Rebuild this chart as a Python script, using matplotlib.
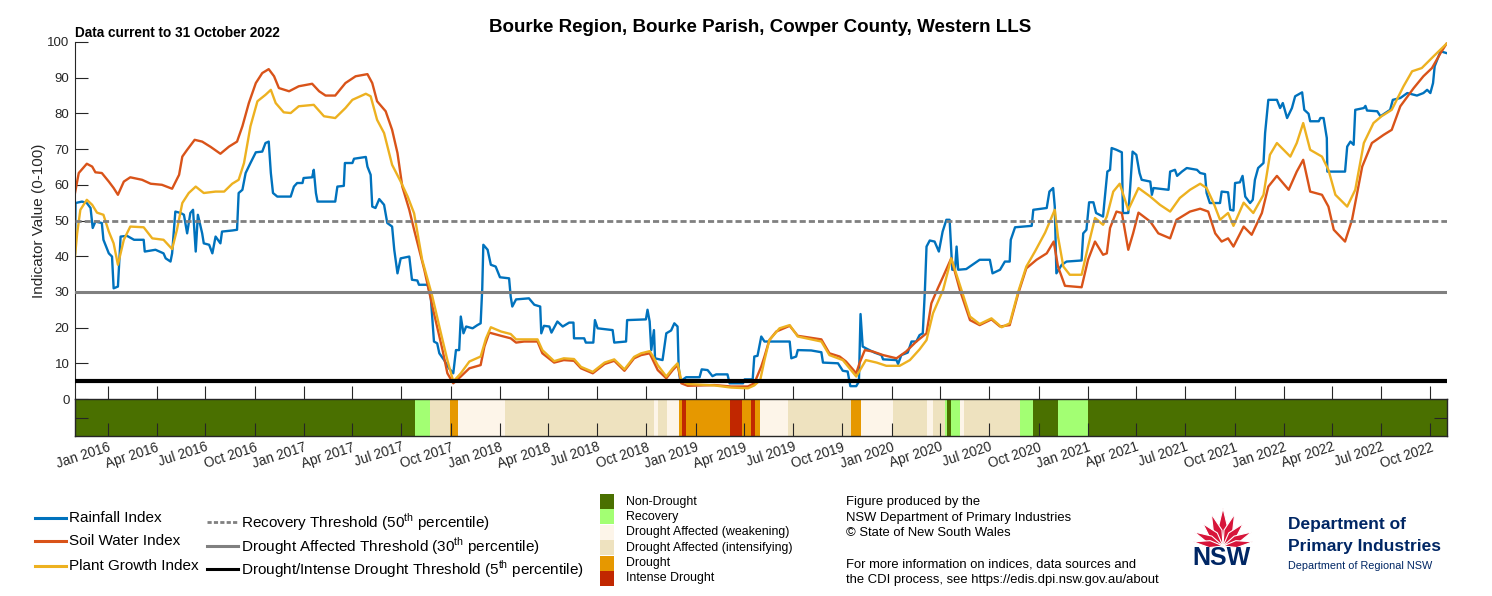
import matplotlib
matplotlib.use("Agg")
import matplotlib.pyplot as plt
import matplotlib.dates as mdates
import numpy as np
import pandas as pd
from matplotlib.patches import Rectangle, Polygon
from matplotlib.lines import Line2D

plt.rcParams['font.family'] = ['Liberation Sans', 'DejaVu Sans']
plt.rcParams['mathtext.fontset'] = 'custom'
plt.rcParams['mathtext.rm'] = 'Liberation Sans'

# --- Daten ---
rain_dates = [
    "2015-11-01", "2015-11-02", "2015-11-14", "2015-11-23", "2015-11-30", "2015-12-04", "2015-12-09",
    "2015-12-21", "2015-12-24", "2016-01-03", "2016-01-09", "2016-01-12", "2016-01-20", "2016-01-25",
    "2016-02-06", "2016-02-19", "2016-03-08", "2016-03-10", "2016-03-30", "2016-04-14", "2016-04-18",
    "2016-04-27", "2016-04-30", "2016-05-06", "2016-05-16", "2016-05-22", "2016-05-28", "2016-06-03",
    "2016-06-08", "2016-06-13", "2016-06-17", "2016-06-25", "2016-06-28", "2016-07-08", "2016-07-14",
    "2016-07-20", "2016-07-29", "2016-08-01", "2016-08-20", "2016-08-29", "2016-09-01", "2016-09-08",
    "2016-09-14", "2016-09-23", "2016-10-03", "2016-10-15", "2016-10-21", "2016-10-27", "2016-10-31",
    "2016-11-04", "2016-11-12", "2016-12-07", "2016-12-13", "2016-12-19", "2016-12-29", "2016-12-31",
    "2017-01-16", "2017-01-19", "2017-01-23", "2017-01-26", "2017-02-28", "2017-03-04", "2017-03-16",
    "2017-03-18", "2017-04-01", "2017-04-04", "2017-04-26", "2017-04-29", "2017-05-05", "2017-05-08",
    "2017-05-14", "2017-05-21", "2017-05-30", "2017-06-05", "2017-06-14", "2017-06-18", "2017-06-24",
    "2017-06-30", "2017-07-16", "2017-07-21", "2017-07-31", "2017-08-03", "2017-08-19", "2017-08-25",
    "2017-08-31", "2017-09-06", "2017-09-10", "2017-09-19", "2017-09-28", "2017-10-06", "2017-10-11",
    "2017-10-17", "2017-10-20", "2017-10-25", "2017-10-30", "2017-11-11", "2017-11-20", "2017-11-26",
    "2017-11-29", "2017-12-01", "2017-12-09", "2017-12-15", "2017-12-24", "2018-01-01", "2018-01-18",
    "2018-01-21", "2018-01-24", "2018-01-31", "2018-02-24", "2018-03-06", "2018-03-17", "2018-03-19",
    "2018-03-24", "2018-04-03", "2018-04-07", "2018-04-18", "2018-04-28", "2018-05-10", "2018-05-18",
    "2018-05-19", "2018-06-07", "2018-06-10", "2018-06-24", "2018-06-27", "2018-07-02", "2018-07-30",
    "2018-08-02", "2018-08-24", "2018-08-26", "2018-09-30", "2018-10-03", "2018-10-07", "2018-10-10",
    "2018-10-15", "2018-10-17", "2018-10-31", "2018-11-07", "2018-11-16", "2018-11-22", "2018-11-28",
    "2018-11-30", "2018-12-03", "2018-12-14", "2019-01-08", "2019-01-12", "2019-01-23", "2019-02-01",
    "2019-02-08", "2019-03-01", "2019-03-05", "2019-03-30", "2019-04-02", "2019-04-17", "2019-04-20",
    "2019-04-26", "2019-05-03", "2019-05-09", "2019-06-25", "2019-06-28", "2019-07-07", "2019-07-10",
    "2019-08-04", "2019-08-23", "2019-08-26", "2019-09-23", "2019-10-02", "2019-10-11", "2019-10-16",
    "2019-10-27", "2019-11-01", "2019-11-04", "2019-11-08", "2019-11-14", "2019-11-30", "2019-12-13",
    "2019-12-16", "2020-01-10", "2020-01-13", "2020-01-19", "2020-01-31", "2020-02-07", "2020-02-16",
    "2020-02-22", "2020-02-28", "2020-03-03", "2020-03-06", "2020-03-12", "2020-03-21", "2020-03-29",
    "2020-04-05", "2020-04-12", "2020-04-18", "2020-04-23", "2020-04-28", "2020-05-01", "2020-05-04",
    "2020-05-19", "2020-06-13", "2020-07-02", "2020-07-07", "2020-07-21", "2020-07-30", "2020-08-08",
    "2020-08-10", "2020-08-18", "2020-09-18", "2020-09-21", "2020-10-16", "2020-10-21", "2020-10-28",
    "2020-10-31", "2020-11-03", "2020-11-13", "2020-11-22", "2020-12-20", "2020-12-23", "2020-12-29",
    "2021-01-03", "2021-01-11", "2021-01-16", "2021-01-29", "2021-01-31", "2021-02-06", "2021-02-11",
    "2021-02-14", "2021-02-23", "2021-03-05", "2021-03-07", "2021-03-17", "2021-03-20", "2021-03-25",
    "2021-04-01", "2021-04-07", "2021-04-11", "2021-04-27", "2021-04-30", "2021-05-03", "2021-05-31",
    "2021-06-03", "2021-06-12", "2021-06-16", "2021-06-25", "2021-07-04", "2021-07-23", "2021-07-29",
    "2021-08-07", "2021-08-10", "2021-08-16", "2021-09-04", "2021-09-07", "2021-09-19", "2021-09-23",
    "2021-09-29", "2021-10-02", "2021-10-11", "2021-10-16", "2021-10-21", "2021-10-30", "2021-11-04",
    "2021-11-08", "2021-11-14", "2021-11-24", "2021-11-27", "2021-12-03", "2021-12-19", "2021-12-25",
    "2021-12-30", "2022-01-07", "2022-01-16", "2022-01-22", "2022-02-04", "2022-02-08", "2022-02-16",
    "2022-02-19", "2022-03-07", "2022-03-10", "2022-03-16", "2022-03-22", "2022-03-23", "2022-04-25",
    "2022-04-29", "2022-05-05", "2022-05-11", "2022-05-14", "2022-05-30", "2022-06-02", "2022-06-05",
    "2022-06-24", "2022-06-30", "2022-07-09", "2022-07-18", "2022-07-23", "2022-08-06", "2022-08-19",
    "2022-09-06", "2022-09-18", "2022-09-25", "2022-10-01", "2022-10-06", "2022-10-09", "2022-10-20",
    "2022-10-31",
]
rain_vals = [
    40.8, 54.9, 55.3, 54.9, 53.5, 47.9, 49.7,
    49.3, 44.6, 40.8, 39.9, 31.0, 31.5, 45.5,
    45.7, 44.6, 44.6, 41.3, 41.8, 40.8, 39.4,
    38.5, 40.8, 52.5, 52.1, 51.6, 46.4, 52.1,
    53.0, 41.3, 51.6, 46.4, 43.6, 43.2, 40.8,
    45.5, 43.6, 46.9, 47.2, 47.4, 57.7, 58.6,
    63.3, 66.1, 69.1, 69.3, 71.7, 72.1, 63.3,
    57.7, 56.7, 56.7, 59.5, 60.5, 60.5, 61.9,
    62.1, 64.2, 57.7, 55.3, 55.3, 59.5, 59.7,
    66.1, 66.1, 67.3, 67.8, 65.1, 62.8, 53.9,
    53.5, 56.0, 54.4, 49.3, 48.3, 41.8, 35.2,
    39.4, 39.9, 33.4, 33.2, 32.0, 32.0, 28.7,
    16.1, 15.6, 12.8, 10.9, 8.6, 7.2, 13.7,
    13.7, 23.1, 18.4, 20.3, 19.8, 20.7, 21.2,
    31.0, 43.2, 41.8, 37.6, 37.1, 34.1, 33.8,
    28.7, 25.9, 27.9, 28.2, 26.4, 25.9, 18.4,
    20.5, 20.3, 18.6, 21.7, 20.3, 21.4, 21.4,
    17.0, 17.0, 15.8, 15.8, 22.1, 19.8, 19.3,
    15.8, 16.1, 22.1, 22.3, 25.0, 21.7, 13.7,
    19.3, 11.4, 10.9, 18.4, 19.2, 21.2, 20.3,
    9.1, 4.9, 6.1, 6.1, 8.3, 8.1, 6.4,
    6.9, 6.9, 4.4, 4.4, 5.5, 5.5, 11.9,
    12.1, 17.5, 16.1, 16.1, 11.4, 11.9, 13.7,
    13.6, 13.1, 10.2, 10.0, 7.9, 7.7, 3.6,
    3.6, 4.9, 23.8, 14.7, 14.2, 13.0, 12.3,
    11.1, 10.9, 9.8, 12.3, 13.0, 16.1, 16.1,
    17.9, 18.4, 30.6, 42.7, 44.4, 44.1, 41.3,
    46.9, 50.2, 50.2, 36.2, 36.2, 42.7, 36.2,
    36.4, 39.0, 39.0, 35.2, 36.2, 38.5, 38.5,
    44.6, 48.1, 48.5, 53.0, 53.5, 58.1, 59.1,
    53.9, 35.2, 37.6, 38.5, 38.8, 46.4, 47.4,
    55.1, 55.1, 52.1, 51.1, 54.4, 63.7, 64.2,
    70.3, 69.8, 69.1, 52.1, 52.1, 58.1, 69.3,
    68.4, 63.3, 61.4, 60.9, 57.2, 59.1, 58.6,
    63.7, 64.2, 62.5, 63.7, 64.7, 64.2, 63.3,
    63.0, 57.7, 54.9, 54.9, 58.1, 57.9, 53.0,
    52.8, 60.5, 60.7, 62.5, 56.7, 54.9, 55.8,
    61.4, 64.7, 66.1, 74.5, 83.8, 83.8, 81.5,
    82.9, 78.7, 81.5, 84.8, 85.9, 81.0, 79.9,
    77.8, 77.8, 78.7, 78.7, 73.1, 63.7, 63.7,
    70.7, 72.1, 71.2, 81.0, 81.5, 82.1, 80.8,
    80.6, 79.2, 80.1, 81.0, 83.8, 84.3, 85.7,
    85.0, 85.7, 86.6, 85.7, 88.5, 93.2, 97.4,
    96.9,
]

soil_dates = [
    "2015-11-01", "2015-11-08", "2015-11-23", "2015-12-03", "2015-12-09", "2015-12-21", "2016-01-03",
    "2016-01-12", "2016-01-20", "2016-01-31", "2016-02-12", "2016-03-05", "2016-03-21", "2016-04-11",
    "2016-04-30", "2016-05-13", "2016-05-19", "2016-05-28", "2016-06-11", "2016-06-25", "2016-07-11",
    "2016-07-29", "2016-08-14", "2016-08-29", "2016-09-08", "2016-09-20", "2016-10-03", "2016-10-15",
    "2016-10-27", "2016-11-06", "2016-11-15", "2016-12-04", "2016-12-22", "2017-01-16", "2017-01-29",
    "2017-02-10", "2017-02-28", "2017-03-19", "2017-04-07", "2017-04-29", "2017-05-08", "2017-05-17",
    "2017-06-02", "2017-06-14", "2017-06-24", "2017-07-03", "2017-07-16", "2017-07-25", "2017-08-13",
    "2017-08-31", "2017-09-16", "2017-09-25", "2017-10-06", "2017-10-20", "2017-11-05", "2017-11-26",
    "2017-12-03", "2017-12-12", "2018-01-03", "2018-01-21", "2018-01-31", "2018-02-15", "2018-03-12",
    "2018-03-21", "2018-04-12", "2018-04-30", "2018-05-19", "2018-06-01", "2018-06-23", "2018-07-15",
    "2018-08-02", "2018-08-21", "2018-09-08", "2018-09-21", "2018-10-07", "2018-10-13", "2018-10-22",
    "2018-11-07", "2018-11-19", "2018-11-28", "2018-12-05", "2018-12-17", "2019-02-05", "2019-03-08",
    "2019-04-08", "2019-04-20", "2019-05-03", "2019-05-09", "2019-05-18", "2019-05-31", "2019-06-25",
    "2019-07-10", "2019-08-01", "2019-08-23", "2019-09-07", "2019-09-26", "2019-10-08", "2019-10-27",
    "2019-11-02", "2019-11-12", "2019-11-27", "2019-12-16", "2020-01-10", "2020-01-28", "2020-02-16",
    "2020-03-06", "2020-03-15", "2020-03-27", "2020-04-06", "2020-04-21", "2020-05-07", "2020-05-26",
    "2020-06-13", "2020-07-05", "2020-07-21", "2020-08-08", "2020-08-24", "2020-09-08", "2020-09-27",
    "2020-10-16", "2020-10-29", "2020-11-06", "2020-11-19", "2020-12-20", "2021-01-01", "2021-01-14",
    "2021-01-29", "2021-02-05", "2021-02-11", "2021-02-23", "2021-03-05", "2021-03-17", "2021-03-26",
    "2021-04-05", "2021-04-27", "2021-05-12", "2021-06-03", "2021-06-15", "2021-07-10", "2021-07-29",
    "2021-08-13", "2021-08-26", "2021-09-07", "2021-09-19", "2021-09-29", "2021-10-18", "2021-11-02",
    "2021-11-21", "2021-12-03", "2021-12-19", "2022-01-10", "2022-01-25", "2022-02-06", "2022-02-19",
    "2022-03-13", "2022-03-25", "2022-04-04", "2022-04-25", "2022-05-08", "2022-05-27", "2022-06-14",
    "2022-07-06", "2022-07-21", "2022-08-06", "2022-08-31", "2022-09-18", "2022-10-04", "2022-10-20",
    "2022-10-31",
]
soil_vals = [
    57.7, 63.3, 65.9, 65.1, 63.5, 63.3, 60.9,
    59.1, 57.2, 60.9, 62.1, 61.4, 60.3, 60.0,
    58.9, 62.8, 67.9, 69.8, 72.6, 72.1, 70.6,
    68.7, 70.7, 72.1, 76.4, 82.9, 88.5, 91.3,
    92.4, 90.4, 87.1, 86.2, 87.6, 88.3, 86.2,
    85.0, 85.0, 88.5, 90.4, 91.0, 88.5, 83.4,
    80.6, 75.4, 68.9, 59.5, 53.0, 47.4, 36.2,
    24.0, 13.7, 7.2, 4.4, 6.3, 8.6, 9.5,
    14.7, 18.6, 17.7, 17.0, 15.8, 16.1, 16.1,
    12.8, 10.2, 10.9, 10.7, 8.6, 7.2, 9.8,
    10.7, 7.9, 11.4, 12.3, 12.8, 10.9, 8.1,
    5.8, 8.1, 9.5, 4.4, 3.7, 3.9, 3.5,
    3.5, 4.4, 9.1, 11.9, 16.5, 18.9, 20.5,
    17.7, 17.2, 16.7, 12.8, 11.9, 10.5, 7.2,
    10.0, 13.7, 13.3, 12.3, 11.4, 13.3, 16.1,
    18.4, 26.8, 31.0, 34.3, 39.4, 30.6, 22.1,
    20.7, 22.3, 20.3, 20.7, 29.6, 36.6, 39.0,
    40.8, 44.1, 37.1, 31.7, 31.3, 39.0, 44.1,
    40.4, 40.8, 47.9, 52.5, 52.1, 41.8, 46.4,
    52.2, 49.7, 46.4, 45.0, 50.2, 52.5, 53.3,
    52.5, 46.4, 44.1, 45.0, 42.7, 48.3, 46.0,
    52.1, 59.5, 62.5, 58.6, 63.7, 67.0, 58.1,
    57.2, 53.9, 47.4, 44.1, 50.2, 65.1, 71.7,
    74.0, 75.4, 82.0, 87.1, 90.4, 92.7, 96.9,
    99.5,
]

plant_dates = [
    "2015-11-01", "2015-11-05", "2015-11-11", "2015-11-23", "2015-12-03", "2015-12-12", "2015-12-24",
    "2016-01-03", "2016-01-12", "2016-01-20", "2016-01-31", "2016-02-12", "2016-03-08", "2016-03-24",
    "2016-04-14", "2016-04-30", "2016-05-09", "2016-05-19", "2016-05-31", "2016-06-13", "2016-06-28",
    "2016-07-20", "2016-08-05", "2016-08-20", "2016-09-01", "2016-09-11", "2016-09-23", "2016-10-06",
    "2016-10-21", "2016-10-31", "2016-11-09", "2016-11-24", "2016-12-07", "2016-12-22", "2017-01-19",
    "2017-02-07", "2017-02-28", "2017-03-19", "2017-04-01", "2017-04-26", "2017-05-05", "2017-05-17",
    "2017-05-30", "2017-06-14", "2017-06-30", "2017-07-13", "2017-07-25", "2017-08-09", "2017-08-28",
    "2017-09-13", "2017-09-25", "2017-10-06", "2017-10-20", "2017-11-05", "2017-11-26", "2017-12-06",
    "2017-12-15", "2018-01-03", "2018-01-21", "2018-01-31", "2018-03-12", "2018-03-21", "2018-04-12",
    "2018-04-30", "2018-05-19", "2018-06-01", "2018-06-23", "2018-07-15", "2018-08-02", "2018-08-21",
    "2018-09-08", "2018-09-21", "2018-10-07", "2018-10-13", "2018-10-22", "2018-11-07", "2018-11-19",
    "2018-11-28", "2018-12-05", "2018-12-17", "2019-02-05", "2019-03-08", "2019-04-08", "2019-04-20",
    "2019-05-01", "2019-05-09", "2019-05-18", "2019-06-06", "2019-06-25", "2019-07-10", "2019-08-23",
    "2019-09-07", "2019-10-02", "2019-10-27", "2019-11-05", "2019-11-14", "2019-12-04", "2019-12-22",
    "2020-01-16", "2020-02-04", "2020-02-22", "2020-03-06", "2020-03-18", "2020-04-06", "2020-04-21",
    "2020-05-07", "2020-05-26", "2020-06-13", "2020-07-05", "2020-07-24", "2020-08-08", "2020-08-24",
    "2020-09-08", "2020-09-24", "2020-10-13", "2020-10-31", "2020-11-06", "2020-11-16", "2020-11-28",
    "2020-12-20", "2021-01-01", "2021-01-14", "2021-01-29", "2021-02-05", "2021-02-17", "2021-03-01",
    "2021-03-17", "2021-04-05", "2021-04-27", "2021-05-15", "2021-06-03", "2021-06-21", "2021-07-10",
    "2021-07-29", "2021-08-10", "2021-08-23", "2021-09-04", "2021-09-19", "2021-09-29", "2021-10-18",
    "2021-11-05", "2021-11-24", "2021-12-06", "2021-12-19", "2022-01-13", "2022-01-25", "2022-02-06",
    "2022-02-19", "2022-03-13", "2022-03-25", "2022-04-07", "2022-04-29", "2022-05-14", "2022-05-30",
    "2022-06-17", "2022-07-02", "2022-07-21", "2022-08-12", "2022-08-28", "2022-09-15", "2022-10-07",
    "2022-10-31",
]
plant_vals = [
    39.9, 46.4, 53.0, 55.8, 54.4, 52.2, 51.6,
    46.9, 43.6, 37.6, 44.6, 48.3, 48.1, 45.0,
    44.6, 42.0, 47.4, 54.9, 57.7, 59.5, 57.7,
    58.1, 58.1, 60.3, 61.4, 66.1, 76.4, 83.4,
    85.2, 86.6, 82.9, 80.3, 80.1, 82.0, 82.4,
    79.2, 78.7, 81.5, 83.8, 85.5, 84.8, 78.2,
    74.5, 65.6, 60.9, 56.7, 52.0, 39.0, 28.7,
    18.4, 10.9, 4.9, 7.2, 10.5, 11.9, 17.0,
    20.1, 18.9, 18.2, 16.7, 16.7, 13.7, 10.6,
    11.4, 11.2, 9.0, 7.6, 10.2, 11.1, 8.3,
    11.8, 12.8, 13.4, 12.0, 9.5, 6.3, 8.6,
    10.0, 5.2, 4.2, 3.8, 3.2, 3.0, 3.8,
    5.3, 10.9, 16.5, 19.8, 20.7, 17.5, 16.1,
    12.3, 10.9, 6.3, 8.6, 10.9, 10.2, 9.3,
    9.3, 10.9, 13.9, 16.5, 24.0, 30.6, 39.4,
    32.0, 23.1, 21.0, 22.6, 20.1, 21.2, 30.1,
    37.1, 41.3, 46.6, 53.0, 45.5, 37.1, 34.8,
    34.8, 42.7, 50.7, 48.8, 51.1, 58.1, 60.3,
    53.0, 59.1, 56.7, 54.4, 52.5, 56.3, 58.6,
    60.3, 59.1, 54.9, 50.2, 52.1, 48.5, 55.0,
    52.1, 57.2, 68.4, 71.7, 67.9, 71.7, 77.3,
    69.8, 67.9, 64.2, 57.2, 53.9, 58.6, 71.7,
    77.3, 79.2, 81.0, 87.6, 91.8, 92.7, 96.0,
    99.5,
]

thresholds = [50, 30, 5]

# CDI-Kategorien: Startdatum + Klasse (Ende = naechster Start)
cdi_names = ["Non-Drought", "Recovery", "Drought Affected (weakening)",
             "Drought Affected (intensifying)", "Drought", "Intense Drought"]
cdi_colors = ["#4A7000", "#A3FF73", "#FDF5E9", "#EEE2BF", "#E69800", "#C12700"]
cdi_start = [
    "2015-11-01", "2017-07-27", "2017-08-24", "2017-09-30", "2017-10-15", "2018-01-11",
    "2018-10-16", "2018-10-23", "2018-11-09", "2018-12-01", "2018-12-07", "2018-12-14",
    "2019-03-05", "2019-03-29", "2019-04-13", "2019-04-22", "2019-04-30", "2019-06-21",
    "2019-10-18", "2019-11-04", "2020-01-03", "2020-03-06", "2020-03-18", "2020-04-09",
    "2020-04-13", "2020-04-20", "2020-05-07", "2020-05-14", "2020-08-27", "2020-09-20",
    "2020-11-06", "2021-01-01",
]
cdi_class = [
    0, 1, 3, 4, 2, 3,
    2, 3, 2, 4, 5, 4,
    5, 4, 5, 4, 2, 3,
    4, 2, 3, 2, 3, 1,
    0, 1, 2, 3, 1, 0,
    1, 0,
]
period_start = "2015-11-01"
period_end = "2022-11-01"

# Farben
c_rain, c_soil, c_plant = "#0072BD", "#D95319", "#EDB120"
c_grey = "#808080"
c_axis = "#262626"

W, H = 1492, 596
fig = plt.figure(figsize=(W / 100, H / 100), dpi=100)
ax = fig.add_axes([75 / W, 1 - 399 / H, 1372 / W, 357 / H])
axb = fig.add_axes([75 / W, 1 - 436 / H, 1372 / W, 37 / H])

# Linien
ax.plot(pd.to_datetime(rain_dates), rain_vals, color=c_rain, lw=1.7, zorder=2)
ax.plot(pd.to_datetime(soil_dates), soil_vals, color=c_soil, lw=1.7, zorder=2)
ax.plot(pd.to_datetime(plant_dates), plant_vals, color=c_plant, lw=1.7, zorder=2)

ax.axhline(thresholds[0], color=c_grey, lw=2.0, ls=(0, (2.2, 1.1)), zorder=3)
ax.axhline(thresholds[1], color=c_grey, lw=2.2, zorder=3)
ax.axhline(thresholds[2], color="black", lw=3.0, zorder=3)

x0, x1 = pd.Timestamp(period_start), pd.Timestamp(period_end)
ax.set_xlim(x0, x1)
ax.set_ylim(0, 100)
ax.set_yticks(range(0, 101, 10))
for s in ["top", "right", "bottom"]:
    ax.spines[s].set_visible(False)
ax.spines["left"].set_color(c_axis)
ax.spines["left"].set_linewidth(0.8)

ticks = pd.date_range("2016-01-01", "2022-10-01", freq="QS")
ax.set_xticks(ticks)
ax.tick_params(axis="both", direction="in", length=9.5, width=0.8, colors=c_axis, labelsize=9.5)
ax.tick_params(axis="x", labelbottom=False)
ax.tick_params(axis="y", labelcolor=c_axis, pad=4)
ax.set_ylabel("Indicator Value (0-100)", fontsize=11, color=c_axis, labelpad=1)

# Kategorie-Balken
starts = pd.to_datetime(cdi_start)
ends = list(starts[1:]) + [x1]
for s, e, k in zip(starts, ends, cdi_class):
    axb.axvspan(s, e, color=cdi_colors[k], lw=0)
axb.set_xlim(x0, x1)
axb.set_ylim(0, 1)
axb.set_yticks([0.5])
axb.set_xticks(ticks)
axb.set_xticklabels([t.strftime("%b %Y") for t in ticks])
axb.tick_params(axis="x", direction="in", length=9.5, width=0.8, colors=c_axis, labelsize=9.8, pad=3)
axb.tick_params(axis="y", direction="in", length=9.5, width=0.8, colors=c_axis,
                left=True, right=True, labelleft=False)
for lab in axb.get_xticklabels():
    lab.set_rotation(18)
    lab.set_ha("right")
    lab.set_rotation_mode("anchor")
for s in axb.spines.values():
    s.set_color(c_axis)
    s.set_linewidth(1.0)

# Titel
fig.text(760 / W, 1 - 28 / H, "Bourke Region, Bourke Parish, Cowper County, Western LLS",
         ha="center", va="center", fontsize=13.5, fontweight="bold")
fig.text(75 / W, 1 - 33 / H, "Data current to 31 October 2022",
         ha="left", va="center", fontsize=9.8, fontweight="bold")

# Ueberlagerung fuer Legende und Logo (Pixelkoordinaten)
ov = fig.add_axes([0, 0, 1, 1], facecolor="none")
ov.set_xlim(0, W)
ov.set_ylim(H, 0)
ov.axis("off")

leg_fs = 11
for y, col, txt in zip([518, 541, 566], [c_rain, c_soil, c_plant],
                       ["Rainfall Index", "Soil Water Index", "Plant Growth Index"]):
    ov.add_line(Line2D([35, 66], [y, y], color=col, lw=2.2))
    ov.text(69, y, txt, fontsize=leg_fs, va="center", ha="left")

thr_styles = [dict(color=c_grey, lw=2.0, ls=(0, (1.5, 0.8))),
              dict(color=c_grey, lw=2.2),
              dict(color="black", lw=2.2)]
thr_text = ["Recovery Threshold (50$^{\\rm th}$ percentile)",
            "Drought Affected Threshold (30$^{\\rm th}$ percentile)",
            "Drought/Intense Drought Threshold (5$^{\\rm th}$ percentile)"]
for y, st, txt in zip([522, 546, 569], thr_styles, thr_text):
    ov.add_line(Line2D([207, 238], [y, y], **st))
    ov.text(241, y, txt, fontsize=leg_fs, va="center", ha="left")

for i, (name, col) in enumerate(zip(cdi_names, cdi_colors)):
    y = 494 + i * 15.4
    ov.add_patch(Rectangle((600, y), 14, 15, facecolor=col, edgecolor="none"))
    ov.text(626, y + 7.5, name, fontsize=8.9, va="center", ha="left")

info = ["Figure produced by the", "NSW Department of Primary Industries",
        "\u00a9 State of New South Wales", "",
        "For more information on indices, data sources and",
        "the CDI process, see https://edis.dpi.nsw.gov.au/about"]
for i, txt in enumerate(info):
    ov.text(846, 502 + i * 15.6, txt, fontsize=9.4, va="center", ha="left")

# NSW Logo (Waratah, vereinfacht)
red, navy = "#D7153A", "#002664"
bx, by = 1223, 546
for ang, ln, wd in [(0, 38, 10), (-20, 34, 9), (20, 34, 9), (-42, 30, 9), (42, 30, 9),
                    (-64, 32, 8), (64, 32, 8), (-82, 30, 7), (82, 30, 7)]:
    a = np.deg2rad(ang)
    ux, uy = np.sin(a), -np.cos(a)
    px, py = np.cos(a), np.sin(a)
    pts = [(bx, by),
           (bx + ux * ln * 0.45 - px * wd / 2, by + uy * ln * 0.45 - py * wd / 2),
           (bx + ux * ln, by + uy * ln),
           (bx + ux * ln * 0.45 + px * wd / 2, by + uy * ln * 0.45 + py * wd / 2)]
    ov.add_patch(Polygon(pts, closed=True, facecolor=red, edgecolor="white", lw=0.8))
ov.text(1222, 558, "NSW", fontsize=18, fontweight="bold", color=navy, ha="center", va="center")
ov.text(1288, 525, "Department of", fontsize=12.5, fontweight="bold", color=navy, va="center")
ov.text(1288, 547, "Primary Industries", fontsize=12.5, fontweight="bold", color=navy, va="center")
ov.text(1288, 566, "Department of Regional NSW", fontsize=7.8, color=navy, va="center")

fig.savefig("out.png", dpi=100)
